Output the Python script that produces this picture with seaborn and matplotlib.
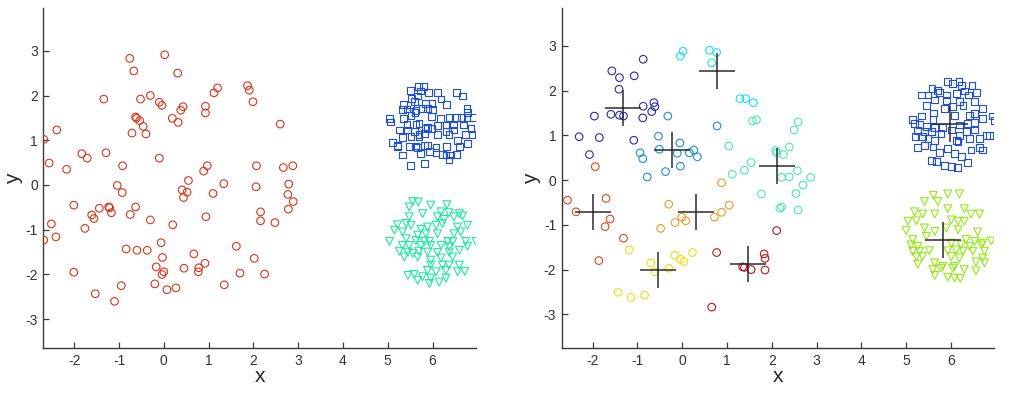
import numpy as np
import pandas as pd
import matplotlib
matplotlib.use("Agg")
import matplotlib.pyplot as plt
import seaborn as sns

# ---------------- data: left panel ----------------
left_circle_x = [-2.68, -2.39, -2.56, -2.17, -1.83, -1.71, -1.34, -1.29, -0.76, -0.67, -0.63, -0.61,
                 -0.54, -0.52, -0.46, -0.71, -0.40, -0.92, -1.04, -0.93, -0.30, -0.10, -0.04, 0.02,
                 0.31, 0.19, 0.32, 0.38, 0.43, -0.10, 0.55, 0.41, 0.52, 0.44, 0.93, 0.93, 1.12, 1.20,
                 0.89, 0.97, 1.10, 1.34, 1.87, 1.91, 1.99, 2.07, 2.06, 2.60, 2.67, 2.88, 2.79, 2.77,
                 -2.68, -2.51, -2.41, -2.01, -1.76, -1.61, -1.56, -1.44, -1.23, -1.21, -1.17, -0.75,
                 -0.63, -0.30, 0.20, 0.94, 2.16, 2.16, 2.48, 2.78, 2.89, -2.01, -1.53, -1.10, -0.95,
                 -0.84, -0.60, -0.37, -0.06, -0.03, -0.17, 0.00, -0.04, -0.20, 0.07, 0.27, 0.45, 0.67,
                 0.78, 0.77, 0.92, 1.35, 1.62, 1.70, 2.02, 2.25]
left_circle_y = [1.02, 1.23, 0.49, 0.35, 0.70, 0.60, 1.92, 0.72, 2.83, 2.55, 1.52, 1.49,
                 1.44, 1.92, 1.31, 1.16, 1.14, 0.43, -0.01, -0.17, 2.00, 1.85, 1.78, 2.91,
                 2.50, 1.49, 1.40, 1.67, 1.75, 0.60, 0.10, -0.11, -0.16, -0.28, 1.76, 1.61, 2.06, 2.17,
                 0.31, 0.43, -0.19, 0.03, 2.22, 2.12, 1.86, 0.43, -0.04, 1.36, 0.39, 0.43, 0.02, -0.21,
                 -1.23, -0.87, -1.16, -0.45, -0.97, -0.67, -0.75, -0.52, -0.49, -0.51, -0.62, -0.66,
                 -0.49, -0.78, -0.89, -0.71, -0.60, -0.80, -0.84, -0.54, -0.37, -1.95, -2.43, -2.60, -2.25,
                 -1.43, -1.46, -1.46, -1.29, -1.62, -1.83, -1.94, -2.00, -2.21, -2.34, -2.30, -1.86, -1.54,
                 -1.85, -1.94, -1.75, -2.23, -1.37, -1.97, -1.64, -1.99]

left_square_x = [5.50, 5.69, 5.79, 5.74, 5.91, 6.11, 6.54, 6.67, 5.53, 5.67, 5.59, 5.36, 5.50, 5.85,
                 5.99, 6.19, 6.32, 5.33, 5.43, 5.63, 5.78, 5.89, 6.00, 6.77, 6.78, 5.04, 5.07, 5.36,
                 5.52, 5.61, 5.97, 6.17, 6.37, 6.54, 6.65, 6.77, 6.91, 5.43, 5.63, 5.70, 5.85, 5.97,
                 6.11, 6.30, 6.46, 6.69, 6.86, 5.26, 5.45, 5.59, 5.70, 5.82, 5.89, 6.11, 6.30, 6.37,
                 6.48, 6.74, 6.88, 5.33, 5.52, 5.70, 6.56, 6.78, 5.11, 5.21, 5.22, 5.48, 5.62, 5.67,
                 5.82, 5.89, 6.08, 6.32, 6.60, 6.08, 6.22, 6.30, 6.41, 6.54, 5.33, 5.74, 5.93, 6.37,
                 5.50, 5.83]
left_square_y = [2.12, 2.20, 2.21, 2.10, 2.07, 2.07, 2.07, 1.99, 1.94, 1.99, 1.86, 1.80, 1.79, 1.82,
                 1.82, 1.92, 1.80, 1.69, 1.70, 1.67, 1.71, 1.71, 1.69, 1.71, 1.62, 1.49, 1.41, 1.49,
                 1.56, 1.62, 1.53, 1.49, 1.50, 1.50, 1.50, 1.50, 1.50, 1.36, 1.36, 1.38, 1.27, 1.27,
                 1.33, 1.34, 1.34, 1.34, 1.27, 1.23, 1.23, 1.19, 1.12, 1.15, 1.28, 1.12, 1.19, 1.13,
                 1.23, 1.13, 1.13, 1.06, 1.08, 1.08, 1.00, 0.93, 0.95, 0.89, 0.86, 0.86, 0.87, 0.83,
                 0.88, 0.89, 0.83, 0.86, 0.86, 0.73, 0.69, 0.67, 0.67, 0.69, 0.67, 0.71, 0.74, 0.56,
                 0.43, 0.48]

left_tri_x = [5.56, 5.68, 5.96, 6.32, 5.48, 5.78, 6.19, 6.37, 6.60, 5.48, 6.11, 6.26, 6.48, 6.67,
              5.22, 5.41, 5.52, 5.74, 5.89, 6.08, 6.22, 6.56, 6.78, 5.15, 5.33, 5.67, 5.85, 6.11,
              6.48, 6.63, 5.04, 5.41, 5.63, 5.82, 5.93, 6.34, 6.45, 6.74, 6.97, 5.33, 5.48, 5.74,
              5.96, 6.19, 6.37, 6.78, 5.26, 5.45, 5.56, 5.70, 5.89, 6.11, 6.37, 6.60, 5.37, 5.67,
              5.96, 6.19, 6.45, 5.96, 6.22, 6.37, 6.60, 5.89, 6.08, 6.30, 6.56, 6.72, 5.45, 5.59,
              5.78, 5.96, 6.30, 5.67, 5.93, 6.15]
left_tri_y = [-0.37, -0.38, -0.45, -0.44, -0.49, -0.64, -0.60, -0.62, -0.64, -0.71, -0.71, -0.77,
              -0.71, -0.69, -0.89, -0.86, -0.90, -0.99, -0.94, -0.90, -0.86, -0.94, -0.90, -1.01,
              -1.05, -1.12, -1.09, -1.09, -1.09, -1.05, -1.26, -1.20, -1.24, -1.26, -1.26, -1.26,
              -1.27, -1.26, -1.26, -1.35, -1.35, -1.35, -1.35, -1.35, -1.38, -1.37, -1.48, -1.50,
              -1.53, -1.48, -1.50, -1.51, -1.50, -1.46, -1.61, -1.61, -1.68, -1.63, -1.61, -1.79,
              -1.79, -1.79, -1.79, -1.91, -1.94, -1.91, -1.94, -1.93, -2.02, -2.00, -2.05, -2.08,
              -2.08, -2.13, -2.20, -2.17]

# ---------------- data: right panel (clustered circles) ----------------
c1_x = [-2.30, -2.07, -1.85, -1.96, -1.57, -1.40, -1.41, -1.07, -0.87, -1.59, -1.40, -1.31, -0.87,
        -0.88, -0.68, -0.63, -0.61, -1.08]
c1_y = [0.97, 0.57, 0.95, 1.43, 2.44, 2.29, 2.03, 2.33, 2.70, 1.47, 1.45, 1.43, 1.65, 1.39, 1.53,
        1.73, 1.64, 0.89]
c2_x = [-0.32, -0.53, -0.94, -0.88, -0.51, -0.78, -0.37, -0.05, -0.11, -0.04, 0.16, 0.26, 0.34, 0.78]
c2_y = [1.43, 0.98, 0.61, 0.48, 0.69, 0.07, 0.19, 0.83, 0.60, 0.31, 0.61, 0.67, 0.52, 1.21]
c3_x = [-0.04, 0.02, 0.61, 0.77, 0.66, 1.29, 1.42, 1.59]
c3_y = [2.77, 2.88, 2.90, 2.85, 2.62, 1.82, 1.82, 1.73]
c4_x = [1.04, 1.57, 1.66, 2.59, 2.50, 2.39, 2.09, 2.11, 2.26, 1.54, 1.39, 1.12, 2.22, 2.39, 2.57,
        2.87, 2.70, 1.77, 2.54, 2.18, 2.22, 2.59]
c4_y = [0.76, 1.32, 1.35, 1.30, 1.12, 0.74, 0.66, 0.61, 0.57, 0.39, 0.22, 0.13, 0.06, 0.07, 0.21,
        0.06, -0.11, -0.31, -0.30, -0.63, -0.60, -0.67]
c5_x = [0.88, -0.30, -0.16, -0.48, -0.01, 0.08, 0.72, 0.88, 1.05]
c5_y = [-0.06, -0.54, -0.95, -1.08, -0.83, -0.91, -0.83, -0.72, -0.56]
c6_x = [-1.18, -0.70, -0.61, -0.30, -0.16, -0.04, 0.04, 0.23, -1.43, -1.14, -0.84]
c6_y = [-1.56, -1.85, -2.05, -1.97, -1.68, -1.77, -1.82, -1.62, -2.51, -2.62, -2.57]
c7_x = [-1.94, -2.56, -2.37, -1.70, -1.61, -1.72, -1.31, -1.86]
c7_y = [0.30, -0.45, -0.71, -0.41, -0.87, -1.04, -1.30, -1.80]
c8_x = [0.77, 0.66, 1.35, 1.39, 1.54, 1.83, 1.85, 1.85, 2.11]
c8_y = [-1.62, -2.84, -1.94, -1.95, -2.00, -1.65, -1.75, -2.01, -1.13]

right_square_x = [5.92, 6.04, 6.18, 6.23, 6.47, 5.58, 5.70, 5.75, 5.34, 5.49, 5.90, 6.12, 6.31, 6.39,
                  6.57, 5.64, 5.90, 6.19, 6.53, 5.45, 6.04, 6.27, 5.86, 6.71, 5.62, 6.08, 6.42, 6.53,
                  6.92, 5.15, 5.34, 5.60, 6.71, 6.97, 5.19, 5.30, 5.45, 5.64, 5.82, 6.19, 6.38, 6.53,
                  5.26, 5.41, 5.56, 5.78, 6.01, 6.19, 6.34, 6.53, 6.79, 6.86, 5.20, 5.37, 5.49, 5.64,
                  6.12, 6.42, 6.64, 5.26, 5.41, 5.60, 5.93, 6.16, 6.45, 6.64, 6.71, 5.75, 6.08, 6.23,
                  5.56, 5.67, 5.86, 6.01, 6.14, 6.38]
right_square_y = [2.20, 2.16, 2.21, 2.12, 2.11, 2.05, 2.01, 1.95, 1.90, 1.90, 1.90, 1.94, 1.99, 1.90,
                  1.95, 1.79, 1.77, 1.75, 1.75, 1.67, 1.65, 1.67, 1.60, 1.60, 1.50, 1.45, 1.45, 1.49,
                  1.43, 1.35, 1.43, 1.35, 1.38, 1.34, 1.27, 1.25, 1.19, 1.18, 1.18, 1.23, 1.27, 1.28,
                  1.10, 1.08, 1.08, 1.04, 1.12, 1.00, 1.08, 1.12, 1.00, 1.00, 0.97, 0.98, 0.93, 0.89,
                  0.89, 0.93, 0.93, 0.73, 0.78, 0.74, 0.71, 0.86, 0.67, 0.73, 0.67, 0.61, 0.60, 0.52,
                  0.43, 0.41, 0.33, 0.30, 0.28, 0.39]

right_tri_x = [5.61, 5.93, 6.19, 5.41, 5.71, 5.19, 5.37, 5.64, 5.93, 6.30, 6.45, 6.64, 5.04, 5.23,
               6.01, 6.16, 6.30, 5.00, 5.41, 5.64, 5.90, 6.16, 6.60, 5.15, 5.45, 6.34, 6.53, 6.71,
               6.90, 5.11, 5.26, 6.01, 6.23, 6.42, 6.68, 5.15, 5.30, 5.52, 5.93, 6.12, 6.27, 6.49,
               6.75, 5.23, 5.37, 6.01, 6.19, 6.71, 5.26, 5.64, 5.82, 6.08, 6.56, 6.75, 5.60, 5.78,
               6.04, 6.30, 6.56, 5.64, 5.93, 6.08, 6.21]
right_tri_y = [-0.34, -0.31, -0.31, -0.48, -0.48, -0.71, -0.76, -0.76, -0.64, -0.64, -0.76, -0.76,
               -0.92, -0.91, -0.89, -0.92, -0.92, -1.13, -1.07, -1.15, -1.07, -1.11, -1.16, -1.33,
               -1.26, -1.33, -1.37, -1.41, -1.36, -1.45, -1.48, -1.41, -1.45, -1.48, -1.45, -1.59,
               -1.59, -1.58, -1.58, -1.56, -1.59, -1.59, -1.59, -1.71, -1.71, -1.71, -1.74, -1.74,
               -1.88, -1.85, -1.93, -1.93, -1.83, -1.85, -2.00, -1.97, -1.97, -2.00, -2.03, -2.13,
               -2.17, -2.19, -2.20]

centroid_x = [-1.31, -0.22, 0.78, 2.11, 0.30, -0.55, -1.98, 1.48, 5.97, 5.82]
centroid_y = [1.62, 0.67, 2.43, 0.32, -0.72, -2.00, -0.72, -1.88, 1.25, -1.35]

x_ticks = [-2, -1, 0, 1, 2, 3, 4, 5, 6]
y_ticks = [-3, -2, -1, 0, 1, 2, 3]

# ---------------- style ----------------
sns.set_style("ticks")
plt.rcParams["font.family"] = ["Liberation Sans", "DejaVu Sans"]
AXC = "#3a3a3a"
plt.rcParams.update({
    "axes.unicode_minus": False,
    "axes.edgecolor": AXC, "xtick.color": AXC, "ytick.color": AXC,
    "xtick.labelcolor": "#333333", "ytick.labelcolor": "#333333",
    "xtick.direction": "in", "ytick.direction": "in",
    "xtick.major.size": 4, "ytick.major.size": 4,
    "xtick.major.width": 0.9, "ytick.major.width": 0.9,
    "axes.linewidth": 1.0,
})

fig = plt.figure(figsize=(10.17, 3.93), dpi=100)
axL = fig.add_axes([0.0426, 0.1137, 0.4254, 0.8653])
axR = fig.add_axes([0.5523, 0.1137, 0.4254, 0.8653])

LW = 0.8


def hollow(ax, xs, ys, marker, color, s):
    df = pd.DataFrame({"x": xs, "y": ys})
    sns.scatterplot(data=df, x="x", y="y", ax=ax, marker=marker, s=s,
                    facecolor="none", edgecolor=color, linewidth=LW, legend=False, zorder=3)


# left panel
hollow(axL, left_circle_x, left_circle_y, "o", "#d4361c", 30)
hollow(axL, left_square_x, left_square_y, "s", "#1f4ed8", 24)
hollow(axL, left_tri_x, left_tri_y, "v", "#22e8a0", 32)

# right panel
cluster_sets = [(c1_x, c1_y, "#2c2aa8"), (c2_x, c2_y, "#1c8fd2"), (c3_x, c3_y, "#18e0f0"),
                (c4_x, c4_y, "#4ce8b4"), (c5_x, c5_y, "#ee9a26"), (c6_x, c6_y, "#f2dc14"),
                (c7_x, c7_y, "#d8481e"), (c8_x, c8_y, "#b8141a")]
for cx, cy, col in cluster_sets:
    hollow(axR, cx, cy, "o", col, 30)
hollow(axR, right_square_x, right_square_y, "s", "#1f4ed8", 24)
hollow(axR, right_tri_x, right_tri_y, "v", "#96e818", 32)

cdf = pd.DataFrame({"x": centroid_x, "y": centroid_y})
sns.scatterplot(data=cdf, x="x", y="y", ax=axR, marker="+", s=26 ** 2, color="#2b2b2b",
                linewidth=1.1, legend=False, zorder=4)

for ax, ylim in ((axL, (-3.65, 3.95)), (axR, (-3.76, 3.84))):
    ax.set_xlim(-2.69, 6.97)
    ax.set_ylim(*ylim)
    ax.set_xticks(x_ticks)
    ax.set_yticks(y_ticks)
    ax.tick_params(labelsize=10, pad=4)
    sns.despine(ax=ax)
    ax.set_xlabel("x", fontsize=15)
    ax.set_ylabel("y", fontsize=15)
    ax.xaxis.set_label_coords(0.5, -0.055)
    ax.yaxis.set_label_coords(-0.047, 0.5)

fig.savefig("out.png", dpi=100)
